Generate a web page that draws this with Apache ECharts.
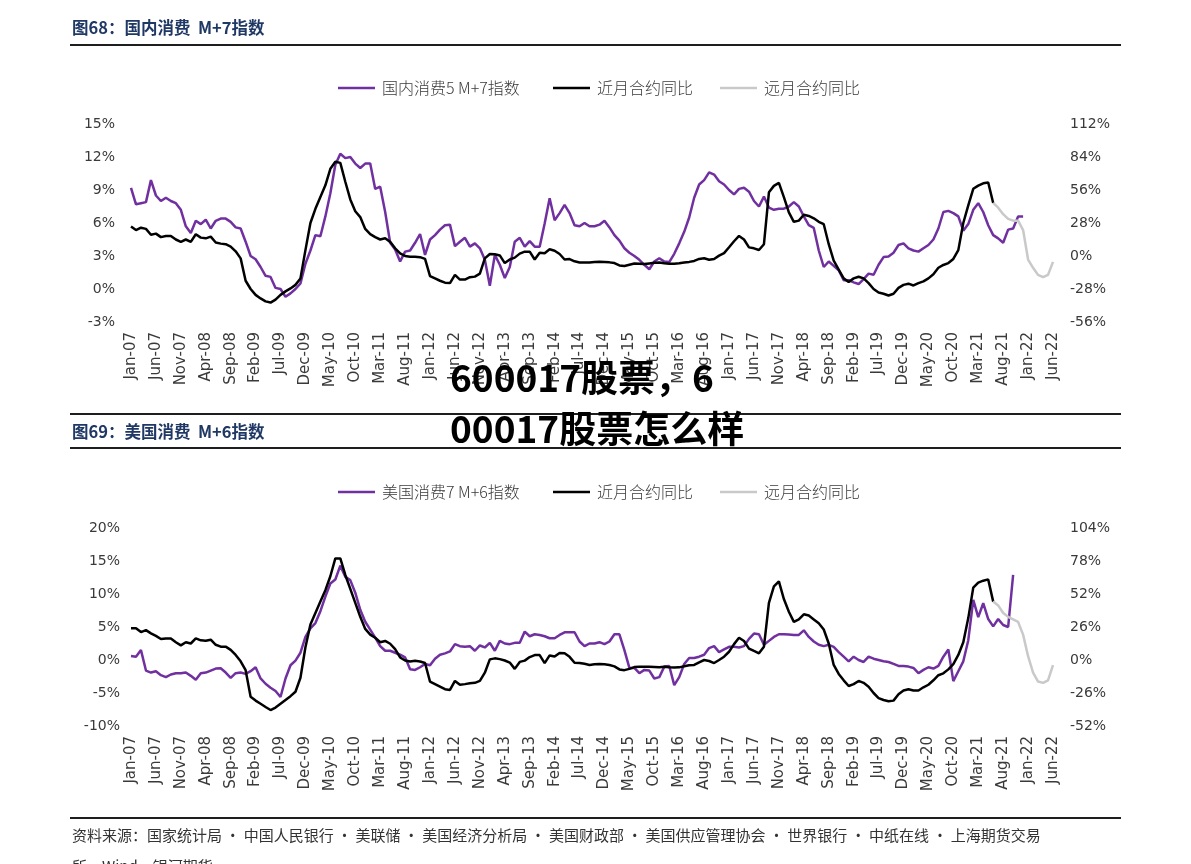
<!DOCTYPE html>
<html>
<head>
<meta charset="utf-8">
<script src="https://cdn.jsdelivr.net/npm/echarts@6/dist/echarts.min.js"></script>
<style>
  html, body { margin: 0; padding: 0; background: #fff; }
  #chart { width: 1191px; height: 864px; }
</style>
</head>
<body>
<div id="chart"></div>
<script>
// month labels Jan-07 .. Jun-22
const monthNames = ['Jan', 'Feb', 'Mar', 'Apr', 'May', 'Jun', 'Jul', 'Aug', 'Sep', 'Oct', 'Nov', 'Dec']
const months = []
for (let y = 7; y <= 22; y++) {
  for (let m = 0; m < 12; m++) {
    if (y === 22 && m > 5) break
    months.push(monthNames[m] + '-' + String(y).padStart(2, '0'))
  }
}

// 图68 国内消费 M+7指数 (left axis, %), Jan-07 .. Dec-21
const cnIndex = [
  9.2, 7.7, 7.8, 7.9, 9.9, 8.5, 8.0, 8.3, 8.0, 7.8,
  7.2, 5.7, 5.1, 6.2, 5.9, 6.3, 5.5, 6.2, 6.4, 6.4,
  6.1, 5.6, 5.5, 4.3, 3.0, 2.7, 2.0, 1.2, 1.1, 0.1,
  0.0, -0.7, -0.4, 0.0, 0.5, 2.3, 3.5, 4.9, 4.8, 6.6,
  8.7, 11.3, 12.3, 11.9, 12.0, 11.4, 11.0, 11.4, 11.4, 9.1,
  9.3, 7.0, 4.2, 3.6, 2.5, 3.4, 3.5, 4.2, 5.0, 3.1,
  4.5, 4.9, 5.4, 5.8, 5.85, 3.9, 4.3, 4.65, 3.85, 4.15,
  3.7, 2.65, 0.3, 3.1, 2.2, 1.0, 2.0, 4.3, 4.65, 3.85,
  4.35, 3.85, 3.85, 5.95, 8.25, 6.25, 6.9, 7.65, 6.9, 5.8,
  5.7, 6.0, 5.7, 5.7, 5.85, 6.2, 5.6, 4.9, 4.4, 3.7,
  3.3, 3.0, 2.65, 2.2, 1.8, 2.5, 2.8, 2.5, 2.45, 3.2,
  4.15, 5.2, 6.5, 8.3, 9.5, 9.9, 10.6, 10.4, 9.8, 9.5,
  9.0, 8.6, 9.1, 9.2, 8.85, 8.0, 7.5, 8.4, 7.4, 7.2,
  7.3, 7.3, 7.5, 7.9, 7.5, 6.6, 5.8, 5.55, 3.5, 2.0,
  2.5, 2.1, 1.7, 0.8, 0.8, 0.6, 0.45, 0.9, 1.4, 1.3,
  2.2, 2.9, 2.95, 3.3, 4.0, 4.15, 3.7, 3.5, 3.4, 3.7,
  4.0, 4.5, 5.5, 7.0, 7.1, 6.9, 6.6, 5.3, 5.9, 7.2,
  7.8, 7.0, 5.8, 4.9, 4.6, 4.2, 5.4, 5.5, 6.6, 6.6
]
// 近月合约同比 (right axis, %), Jan-07 .. Jun-21
const cnNear = [
  25, 22, 24, 23, 18, 19, 16, 17, 17, 14,
  12, 14, 12, 18.5, 15.6, 15, 16.4, 11.5, 10.5, 10,
  8, 4, -2, -21, -28, -33, -36, -38.5, -39.5, -37,
  -33, -30, -27.5, -24.5, -19, 5, 28, 40, 50, 60,
  74, 80, 79, 63, 48, 38, 33, 23, 18.5, 16,
  14, 15, 12, 6.5, 2.3, 0, -0.6, -0.6, -1, -2.5,
  -17, -19, -21, -22.6, -23, -16, -20, -20, -18, -17.5,
  -15, -2, 1.7, 1.5, 0.5, -6, -3, -1.4, 2, 3.7,
  3.7, -3, 2.8, 2.3, 5.7, 4.5, 1.7, -3, -2.6, -4.5,
  -5.5, -5.5, -5.5, -5, -4.8, -5, -5.4, -6, -8, -8.5,
  -7.4, -6.3, -6.5, -6.8, -6.3, -5.8, -5.6, -6.2, -6.6, -6.5,
  -6.2, -5.6, -5, -4.2, -2.5, -1.9, -3.2, -2.5, 0.3, 2.4,
  7.4, 12.5, 17, 14, 7.3, 6.5, 5.1, 10, 54, 59.5,
  62, 50, 37, 29, 30, 35, 34, 32, 29, 27,
  10, -4, -11.5, -19, -22, -19, -17.6, -19, -23, -28,
  -31, -32, -33.5, -32, -27, -24.5, -23.5, -25, -23, -21.5,
  -19, -15.5, -10, -7.6, -6, -2.5, 5, 28, 43, 57,
  59.7, 61.7, 62.3, 45
]
// 远月合约同比 (right axis, %), Jun-21 .. Jun-22
const cnFarStart = 'Jun-21'
const cnFar = [45, 41, 35.5, 31.5, 30, 30, 22, -3, -10, -16, -18, -16, -5]

// 图69 美国消费 M+6指数 (left axis, %), Jan-07 .. Oct-21
const usIndex = [
  0.6, 0.5, 1.5, -1.6, -1.9, -1.7, -2.3, -2.6, -2.2, -2.0,
  -2.0, -1.9, -2.4, -3.0, -2.0, -1.9, -1.6, -1.3, -1.25, -1.9,
  -2.7, -2.0, -1.9, -2.1, -1.7, -1.1, -2.8, -3.6, -4.2, -4.7,
  -5.6, -2.8, -0.8, -0.1, 1.1, 3.5, 4.8, 5.6, 7.4, 9.6,
  11.6, 12.2, 14.3, 12.6, 12.1, 10.2, 7.6, 5.8, 4.6, 3.4,
  2.1, 1.4, 1.4, 1.1, 0.8, 0.4, -1.4, -1.5, -1.1, -0.6,
  -0.8, 0.2, 0.8, 1.0, 1.3, 2.4, 2.1, 2.0, 2.1, 1.4,
  2.2, 1.9, 2.6, 1.4, 2.9, 2.5, 2.4, 2.6, 2.6, 4.3,
  3.6, 3.9, 3.8, 3.6, 3.3, 3.3, 3.8, 4.2, 4.2, 4.2,
  2.8, 2.1, 2.5, 2.5, 2.7, 2.4, 2.8, 3.9, 3.9, 1.5,
  -1.2, -1.2, -2.0, -1.5, -1.6, -2.8, -2.6, -1.0, -0.9, -3.8,
  -2.6, -0.6, 0.3, 0.3, 0.5, 0.8, 1.8, 2.1, 1.2, 1.6,
  2.0, 2.0, 1.9, 2.1, 3.2, 4.0, 3.9, 2.3, 2.9, 3.5,
  3.9, 3.9, 3.85, 3.8, 3.8, 4.5, 3.5, 2.8, 2.3, 2.1,
  2.3, 2.0, 1.2, 0.5, -0.2, 0.5, 0.0, -0.3, 0.5, 0.2,
  0.0, -0.2, -0.3, -0.6, -0.9, -0.9, -1.0, -1.2, -2.0, -1.5,
  -1.1, -1.3, -0.9, 0.5, 1.6, -3.2, -1.7, -0.2, 3.0, 9.1,
  6.5, 8.6, 6.2, 5.1, 6.2, 5.3, 5.0, 12.9
]
// 近月合约同比 (right axis, %), Jan-07 .. Jun-21
const usNear = [
  25, 25, 22, 23.5, 21, 19, 16.5, 17, 17, 14,
  11.5, 14, 13, 17, 15.5, 15.2, 16, 12, 10.5, 10.5,
  8, 4, -1, -8, -29, -32, -34.5, -37, -39.4, -37.5,
  -34.5, -31.5, -28.5, -25, -14, 10, 28, 37, 46, 55,
  66, 80, 80, 67, 56, 45, 34, 24.5, 20, 17.5,
  14, 15, 12.8, 8.5, 2, -0.4, -1.2, -0.6, -1.2, -2.4,
  -17, -19, -21, -23, -23.6, -16.5, -19.5, -19, -18.4, -18,
  -16.5, -10, 0.5, 1.3, 0.7, -0.4, -2, -7, -1.5, -0.5,
  2.3, 3.9, 3.9, -2.5, 3.6, 2.7, 5.6, 5.3, 2.5, -2.2,
  -2.3, -3, -3.9, -3.4, -3.2, -3.4, -3.9, -5, -7.4, -8,
  -7, -5.6, -5.3, -5.3, -5.3, -5.5, -5.7, -5.4, -5.8, -6,
  -5.8, -5, -4.2, -3.9, -1.8, 0, -0.8, -2.4, 0, 2.6,
  6.5, 12.5, 17.5, 15, 9, 7.1, 5.3, 10.5, 45, 58,
  62, 48, 38, 30, 32, 36, 35, 32, 29, 24,
  13, -3.9, -11, -16, -20.5, -19, -16.5, -18, -21, -26,
  -30, -31.5, -32.5, -32, -27, -24, -23, -24, -24, -21.5,
  -19.5, -16, -12, -10.5, -7.4, -3.2, 4, 14, 33, 57,
  61, 62.5, 63.5, 46
]
// 远月合约同比 (right axis, %), Jun-21 .. Jun-22
const usFarStart = 'Jun-21'
const usFar = [46, 43, 37, 34, 32, 30, 20, 3, -10, -17, -18, -16, -4]

const cnTicksLeft = [-3, 15, 3]
const cnTicksRight = [-56, 112, 28]
const usTicksLeft = [-10, 20, 5]
const usTicksRight = [-52, 104, 26]

const PURPLE = '#7030A0'
const BLACK = '#000000'
const GREY = '#C9C9C9'
const NUM_FONT = 'DejaVu Sans'
const CJK_FONT = 'Noto Sans CJK SC'

function padFrom (start, arr) {
  return new Array(months.indexOf(start)).fill(null).concat(arr)
}

function xAxis (grid) {
  return {
    type: 'category',
    gridIndex: grid,
    data: months,
    boundaryGap: false,
    axisLine: { show: false },
    axisTick: { show: false },
    axisLabel: {
      interval: 4,
      rotate: 90,
      margin: 10,
      fontSize: 15,
      fontFamily: NUM_FONT,
      color: '#3a3a3a'
    }
  }
}

function yAxis (grid, ticks, pos, margin) {
  return {
    type: 'value',
    gridIndex: grid,
    position: pos,
    min: ticks[0],
    max: ticks[1],
    interval: ticks[2],
    axisLine: { show: false },
    axisTick: { show: false },
    splitLine: { show: false },
    axisLabel: {
      formatter: '{value}%',
      margin: margin,
      fontSize: 14,
      fontFamily: NUM_FONT,
      color: '#3a3a3a'
    }
  }
}

function line (name, grid, yIdx, data, color) {
  return {
    name: name,
    type: 'line',
    xAxisIndex: grid,
    yAxisIndex: yIdx,
    data: data,
    symbol: 'none',
    connectNulls: false,
    lineStyle: { color: color, width: 2.5 },
    itemStyle: { color: color }
  }
}

function legend (name, left, top) {
  return {
    data: [name],
    left: left,
    top: top,
    padding: 0,
    icon: 'rect',
    itemWidth: 37,
    itemHeight: 2.5,
    selectedMode: false,
    textStyle: {
      fontSize: 16,
      fontFamily: CJK_FONT,
      fontWeight: 300,
      color: '#3a3a3a',
      padding: [0, 0, 0, 2]
    }
  }
}

function rule (y) {
  return {
    type: 'line',
    shape: { x1: 70, y1: y, x2: 1121, y2: y },
    style: { stroke: '#1e1e1e', lineWidth: 2 }
  }
}

function text (str, x, y, font, fill, extra) {
  return Object.assign({
    type: 'text',
    x: x,
    y: y,
    style: { text: str, font: font, fill: fill, verticalAlign: 'middle' }
  }, extra || {})
}

const TITLE_FONT = 'bold 16.5px "' + CJK_FONT + '"'
const NOTE_FONT = '15px "' + CJK_FONT + '"'
const MARK_FONT = 'bold 37px "' + CJK_FONT + '"'

const chart = echarts.init(document.getElementById('chart'))
chart.setOption({
  animation: false,
  backgroundColor: '#fff',
  grid: [
    { left: 131, width: 922, top: 124, height: 198 },
    { left: 131, width: 922, top: 528, height: 198 }
  ],
  xAxis: [xAxis(0), xAxis(1)],
  yAxis: [
    yAxis(0, cnTicksLeft, 'left', 16),
    yAxis(0, cnTicksRight, 'right', 17),
    yAxis(1, usTicksLeft, 'left', 11),
    yAxis(1, usTicksRight, 'right', 17)
  ],
  legend: [
    legend('国内消费5 M+7指数', 338, 80),
    legend('近月合约同比', 553, 80),
    legend('远月合约同比', 720, 80),
    legend('美国消费7 M+6指数', 338, 484),
    legend('近月合约同比', 553, 484),
    legend('远月合约同比', 720, 484)
  ],
  series: [
    line('国内消费5 M+7指数', 0, 0, cnIndex, PURPLE),
    line('近月合约同比', 0, 1, cnNear, BLACK),
    line('远月合约同比', 0, 1, padFrom(cnFarStart, cnFar), GREY),
    line('美国消费7 M+6指数', 1, 2, usIndex, PURPLE),
    line('近月合约同比', 1, 3, usNear, BLACK),
    line('远月合约同比', 1, 3, padFrom(usFarStart, usFar), GREY)
  ],
  graphic: [
    text('图68：国内消费  M+7指数', 72, 28, TITLE_FONT, '#1F3864'),
    rule(45),
    rule(414),
    text('图69：美国消费  M+6指数', 72, 432, TITLE_FONT, '#1F3864'),
    rule(448),
    rule(818),
    text('资料来源：国家统计局 · 中国人民银行 · 美联储 · 美国经济分析局 · 美国财政部 · 美国供应管理协会 · 世界银行 · 中纸在线 · 上海期货交易',
      72, 835, NOTE_FONT, '#333'),
    text('所，Wind，银河期货', 72, 866, NOTE_FONT, '#333'),
    {
      type: 'text',
      x: 450,
      y: 403,
      z: 100,
      style: {
        text: '600017股票，6\n00017股票怎么样',
        font: MARK_FONT,
        fill: '#000',
        verticalAlign: 'middle',
        lineHeight: 51
      }
    }
  ]
})
</script>
</body>
</html>
